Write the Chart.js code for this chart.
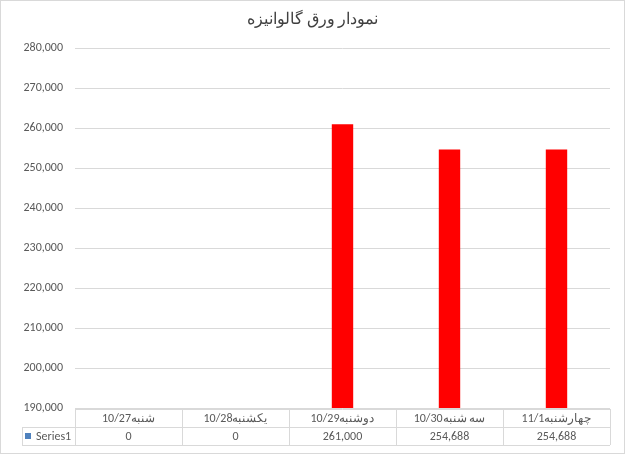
<!DOCTYPE html>
<html>
<head>
<meta charset="utf-8">
<title>نمودار ورق گالوانیزه</title>
<script src="https://cdn.jsdelivr.net/npm/chart.js@4/dist/chart.umd.min.js"></script>
<style>
    html, body { margin: 0; padding: 0; background: #fff; }
    #wrap { width: 625px; height: 454px; position: relative; }
</style>
</head>
<body>
<div id="wrap"><canvas id="galvChart"></canvas></div>
<script>
// data
const days = ['شنبه10/27', 'یکشنبه10/28', 'دوشنبه10/29', 'سه شنبه10/30', 'چهارشنبه11/1'];
const series1 = [0, 0, 261000, 254688, 254688];
const yTicks = [190000, 200000, 210000, 220000, 230000, 240000, 250000, 260000, 270000, 280000];

const textColor = '#595959';
const lineColor = '#d9d9d9';
const baseFont = 'Calibri, "Liberation Sans", Arial, sans-serif';

const fmt = v => v.toLocaleString('en-US');

// Excel style data table under the plot + outer frame
const dataTable = {
    id: 'dataTable',
    afterDraw(chart) {
        const ctx = chart.ctx;
        const x = chart.scales.x;
        const area = chart.chartArea;
        const step = (area.right - area.left) / days.length;
        const top = area.bottom + 1, mid = top + 18, bot = mid + 18;
        const labelLeft = 22;

        ctx.save();
        ctx.strokeStyle = lineColor;
        ctx.lineWidth = 1;
        ctx.beginPath();
        ctx.moveTo(area.left, top + 0.5); ctx.lineTo(area.right, top + 0.5);
        ctx.moveTo(labelLeft, mid + 0.5); ctx.lineTo(area.right, mid + 0.5);
        ctx.moveTo(labelLeft, bot + 0.5); ctx.lineTo(area.right, bot + 0.5);
        ctx.moveTo(labelLeft + 0.5, mid); ctx.lineTo(labelLeft + 0.5, bot);
        for (let i = 0; i <= days.length; i++) {
            const xx = Math.round(area.left + i * step) + 0.5;
            ctx.moveTo(xx, top); ctx.lineTo(xx, bot);
        }
        ctx.stroke();

        ctx.fillStyle = textColor;
        ctx.font = '12px ' + baseFont;
        ctx.textAlign = 'center';
        ctx.textBaseline = 'middle';
        days.forEach((d, i) => {
            const cx = x.getPixelForValue(i);
            ctx.fillText(d, cx, (top + mid) / 2 + 1);
            ctx.fillText(fmt(series1[i]), cx, (mid + bot) / 2 + 1);
        });

        // legend key + series name
        ctx.fillStyle = '#4f81bd';
        ctx.fillRect(labelLeft + 3, (mid + bot) / 2 - 3, 6, 6);
        ctx.fillStyle = textColor;
        ctx.textAlign = 'left';
        ctx.fillText('Series1', labelLeft + 14, (mid + bot) / 2 + 1);

        // chart frame
        ctx.strokeStyle = lineColor;
        ctx.strokeRect(0.5, 0.5, chart.width - 1, chart.height - 1);
        ctx.restore();
    }
};

new Chart(document.getElementById('galvChart'), {
    type: 'bar',
    data: {
        labels: days,
        datasets: [{
            label: 'Series1',
            data: series1,
            backgroundColor: '#ff0000',
            borderWidth: 0,
            categoryPercentage: 1,
            barPercentage: 0.2,
            clip: 0
        }]
    },
    options: {
        responsive: true,
        maintainAspectRatio: false,
        animation: false,
        layout: { padding: { left: 15, right: 15, top: 0, bottom: 46 } },
        plugins: {
            legend: { display: false },
            tooltip: { enabled: false },
            title: {
                display: true,
                text: 'نمودار ورق گالوانیزه',
                color: '#404040',
                font: { family: baseFont, size: 16, weight: 'normal' },
                padding: { top: 10, bottom: 19 }
            }
        },
        scales: {
            x: { display: false },
            y: {
                min: yTicks[0],
                max: yTicks[yTicks.length - 1],
                afterFit: scale => { scale.width = 60; },
                afterBuildTicks: scale => { scale.ticks = yTicks.map(v => ({ value: v })); },
                grid: { color: lineColor, drawTicks: false },
                border: { display: false },
                ticks: {
                    color: textColor,
                    padding: 12,
                    font: { family: baseFont, size: 12 },
                    callback: v => fmt(v)
                }
            }
        }
    },
    plugins: [dataTable]
});
</script>
</body>
</html>
